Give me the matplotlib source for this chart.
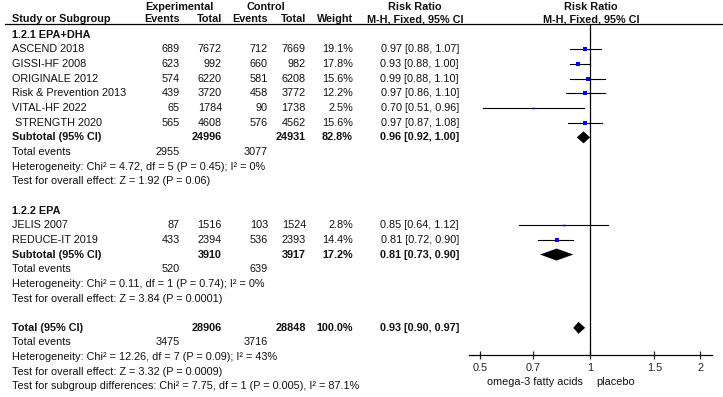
import numpy as np
import matplotlib.pyplot as plt

plt.rcParams['font.family'] = ['Liberation Sans', 'DejaVu Sans']

# study level data
grp1_names = ['ASCEND 2018', 'GISSI-HF 2008', 'ORIGINALE 2012', 'Risk & Prevention 2013',
              'VITAL-HF 2022', ' STRENGTH 2020']
grp1_ev_exp = [689, 623, 574, 439, 65, 565]
grp1_tot_exp = [7672, 992, 6220, 3720, 1784, 4608]
grp1_ev_ctl = [712, 660, 581, 458, 90, 576]
grp1_tot_ctl = [7669, 982, 6208, 3772, 1738, 4562]
grp1_weight = [19.1, 17.8, 15.6, 12.2, 2.5, 15.6]
grp1_rr = [0.97, 0.93, 0.99, 0.97, 0.70, 0.97]
grp1_lo = [0.88, 0.88, 0.88, 0.86, 0.51, 0.87]
grp1_hi = [1.07, 1.00, 1.10, 1.10, 0.96, 1.08]

grp2_names = ['JELIS 2007', 'REDUCE-IT 2019']
grp2_ev_exp = [87, 433]
grp2_tot_exp = [1516, 2394]
grp2_ev_ctl = [103, 536]
grp2_tot_ctl = [1524, 2393]
grp2_weight = [2.8, 14.4]
grp2_rr = [0.85, 0.81]
grp2_lo = [0.64, 0.72]
grp2_hi = [1.12, 0.90]

# pooled results: (total exp, total ctl, weight, rr, lo, hi, events exp, events ctl)
sub1 = [24996, 24931, 82.8, 0.96, 0.92, 1.00, 2955, 3077]
sub2 = [3910, 3917, 17.2, 0.81, 0.73, 0.90, 520, 639]
overall = [28906, 28848, 100.0, 0.93, 0.90, 0.97, 3475, 3716]

sub1_notes = ['Heterogeneity: Chi\u00b2 = 4.72, df = 5 (P = 0.45); I\u00b2 = 0%',
              'Test for overall effect: Z = 1.92 (P = 0.06)']
sub2_notes = ['Heterogeneity: Chi\u00b2 = 0.11, df = 1 (P = 0.74); I\u00b2 = 0%',
              'Test for overall effect: Z = 3.84 (P = 0.0001)']
overall_notes = ['Heterogeneity: Chi\u00b2 = 12.26, df = 7 (P = 0.09); I\u00b2 = 43%',
                 'Test for overall effect: Z = 3.32 (P = 0.0009)',
                 'Test for subgroup differences: Chi\u00b2 = 7.75, df = 1 (P = 0.005), I\u00b2 = 87.1%']

ticks = [0.5, 0.7, 1, 1.5, 2]
tick_labels = ['0.5', '0.7', '1', '1.5', '2']

W, H = 723, 397
fig = plt.figure(figsize=(W / 100, H / 100), dpi=100)
ax = fig.add_axes([0, 0, 1, 1])
ax.set_xlim(0, W)
ax.set_ylim(H, 0)
ax.axis('off')

fs = 7.8
x_name, x_ee, x_te, x_ec, x_tc, x_w, x_ci = 12, 180, 222, 268, 306, 353, 459
y0, dy = 34.8, 14.65

# forest panel, x in log scale
ax_left, ax_right, y_top, y_axis = 469, 712, 24, 355
fx = fig.add_axes([ax_left / W, 1 - y_axis / H, (ax_right - ax_left) / W, (y_axis - y_top) / H])
fx.set_xscale('log')
fx.set_xlim(2 ** ((ax_left - 590) / 110), 2 ** ((ax_right - 590) / 110))
fx.set_ylim(y_axis, y_top)
fx.patch.set_alpha(0)
for s in ['top', 'left', 'right']:
    fx.spines[s].set_visible(False)
fx.spines['bottom'].set_linewidth(0.9)
fx.set_yticks([])
fx.set_xticks(ticks)
fx.set_xticklabels(tick_labels)
fx.xaxis.set_minor_locator(plt.NullLocator())
fx.tick_params(axis='x', direction='inout', length=6, width=0.9, labelsize=fs, pad=2.5, colors='#222222')
fx.axvline(1, color='black', lw=0.9)


def txt(x, y, s, ha='right', bold=False):
    ax.text(x, y, s, ha=ha, va='center', fontsize=fs, fontweight='bold' if bold else 'normal', color='#111111')


def diamond(y, est, lo, hi):
    fx.fill([lo, est, hi, est], [y, y - 6, y, y + 6], color='black', lw=0)


# header
txt(179, 6.5, 'Experimental', ha='center', bold=True)
txt(266, 6.5, 'Control', ha='center', bold=True)
txt(415, 6.5, 'Risk Ratio', ha='center', bold=True)
txt(591, 6.5, 'Risk Ratio', ha='center', bold=True)
txt(x_name, 19.5, 'Study or Subgroup', ha='left', bold=True)
txt(x_ee, 19.5, 'Events', bold=True)
txt(x_te, 19.5, 'Total', bold=True)
txt(x_ec, 19.5, 'Events', bold=True)
txt(x_tc, 19.5, 'Total', bold=True)
txt(x_w, 19.5, 'Weight', bold=True)
txt(415, 19.5, 'M-H, Fixed, 95% CI', ha='center', bold=True)
txt(591, 19.5, 'M-H, Fixed, 95% CI', ha='center', bold=True)
ax.plot([5, W], [24, 24], color='black', lw=0.9)

groups = [
    ('1.2.1 EPA+DHA', grp1_names, grp1_ev_exp, grp1_tot_exp, grp1_ev_ctl, grp1_tot_ctl,
     grp1_weight, grp1_rr, grp1_lo, grp1_hi, sub1, sub1_notes),
    ('1.2.2 EPA', grp2_names, grp2_ev_exp, grp2_tot_exp, grp2_ev_ctl, grp2_tot_ctl,
     grp2_weight, grp2_rr, grp2_lo, grp2_hi, sub2, sub2_notes),
]

row = 0
for title, names, ee, te, ec, tc, wt, rr, lo, hi, sub, notes in groups:
    txt(x_name, y0 + row * dy, title, ha='left', bold=True)
    row += 1
    for i in range(len(names)):
        y = y0 + row * dy
        txt(x_name, y, names[i], ha='left')
        txt(x_ee, y, str(ee[i]))
        txt(x_te, y, str(te[i]))
        txt(x_ec, y, str(ec[i]))
        txt(x_tc, y, str(tc[i]))
        txt(x_w, y, f'{wt[i]:.1f}%')
        txt(x_ci, y, f'{rr[i]:.2f} [{lo[i]:.2f}, {hi[i]:.2f}]')
        fx.plot([lo[i], hi[i]], [y, y], color='black', lw=0.8)
        fx.plot(rr[i], y, 's', color='#0000ee', markersize=0.75 * np.sqrt(wt[i]), mew=0)
        row += 1
    y = y0 + row * dy
    txt(x_name, y, 'Subtotal (95% CI)', ha='left', bold=True)
    txt(x_te, y, str(sub[0]), bold=True)
    txt(x_tc, y, str(sub[1]), bold=True)
    txt(x_w, y, f'{sub[2]:.1f}%', bold=True)
    txt(x_ci, y, f'{sub[3]:.2f} [{sub[4]:.2f}, {sub[5]:.2f}]', bold=True)
    diamond(y, sub[3], sub[4], sub[5])
    row += 1
    y = y0 + row * dy
    txt(x_name, y, 'Total events', ha='left')
    txt(x_ee, y, str(sub[6]))
    txt(x_ec, y, str(sub[7]))
    row += 1
    for n in notes:
        txt(x_name, y0 + row * dy, n, ha='left')
        row += 1
    row += 1

y = y0 + row * dy
txt(x_name, y, 'Total (95% CI)', ha='left', bold=True)
txt(x_te, y, str(overall[0]), bold=True)
txt(x_tc, y, str(overall[1]), bold=True)
txt(x_w, y, f'{overall[2]:.1f}%', bold=True)
txt(x_ci, y, f'{overall[3]:.2f} [{overall[4]:.2f}, {overall[5]:.2f}]', bold=True)
diamond(y, overall[3], overall[4], overall[5])
row += 1
y = y0 + row * dy
txt(x_name, y, 'Total events', ha='left')
txt(x_ee, y, str(overall[6]))
txt(x_ec, y, str(overall[7]))
row += 1
for n in overall_notes:
    txt(x_name, y0 + row * dy, n, ha='left')
    row += 1

txt(583, 382, 'omega-3 fatty acids', ha='right')
txt(596, 382, 'placebo', ha='left')

fig.savefig('out.png', dpi=100)
